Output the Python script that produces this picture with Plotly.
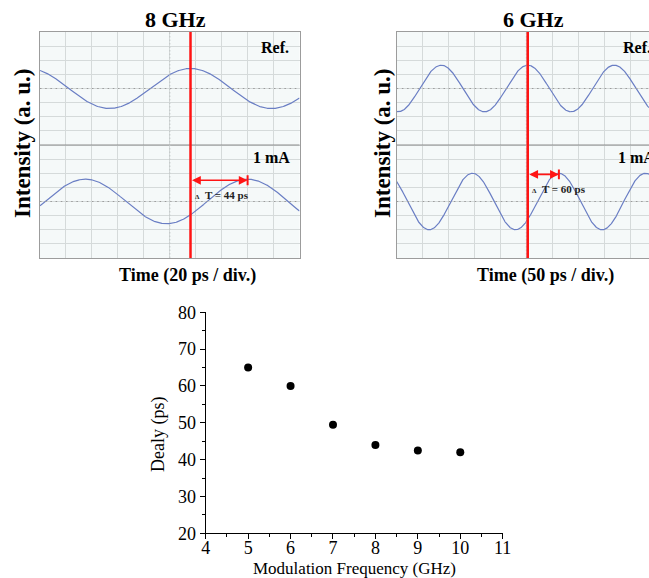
import numpy as np
import plotly.graph_objects as go

# ---- delay versus modulation frequency ----
freq_ghz = [5, 6, 7, 8, 9, 10]
delay_ps = [65, 60, 49.5, 44, 42.5, 42]

# ---- oscilloscope captures (reference and 1 mA signal) ----
scope_titles = ["8 GHz", "6 GHz"]
scope_freq_ghz = [8, 6]
scope_ps_per_div = [20, 50]
scope_ref_peak_ps = [116, 252.5]      # marker line sits on this reference peak
scope_delay_ps = [44, 60]             # peak shift of the 1 mA trace
scope_ref_amp_div = [1.42, 1.65]
scope_sig_amp_div = [1.58, 2.0]
scope_time_labels = ["Time (20 ps / div.)", "Time (50 ps / div.)"]
scope_delay_labels = ["T = 44 ps", "T = 60 ps"]

W, H = 649, 578
SERIF = "Liberation Serif, Times New Roman, serif"


def fx(px):
    return px / W


def fy(py):
    return 1 - py / H


# scope frames in page pixels: left, right, top, bottom
DIV_PX = 25.95
frames = [
    dict(x0=40, x1=299.5, top=32, bottom=258),
    dict(x0=396.7, x1=W, top=32, bottom=258),
]

fig = go.Figure()

wave_color = "#6a7ec4"
grid_color = "#d5dada"
frame_color = "#9c9c9c"
scope_bg = "#f5f9f9"

shapes = []
annotations = []

for i in range(2):
    fr = frames[i]
    xa = "x" if i == 0 else "x2"
    ya = "y" if i == 0 else "y2"
    per_div = scope_ps_per_div[i]
    t_max = (fr["x1"] - fr["x0"]) / DIV_PX * per_div
    t = np.linspace(0, t_max, 900)
    f = scope_freq_ghz[i] / 1000.0  # cycles per ps
    t_ref = scope_ref_peak_ps[i]
    t_sig = t_ref + scope_delay_ps[i]
    ref = 12 + scope_ref_amp_div[i] * np.cos(2 * np.pi * f * (t - t_ref))
    sig = 4 + scope_sig_amp_div[i] * np.cos(2 * np.pi * f * (t - t_sig))
    for yy in (ref, sig):
        fig.add_trace(go.Scatter(x=t, y=yy, mode="lines", xaxis=xa, yaxis=ya,
                                 line=dict(color=wave_color, width=1.2),
                                 hoverinfo="skip", showlegend=False))

    # screen background
    shapes.append(dict(type="rect", xref=xa + " domain", yref=ya + " domain",
                       x0=0, x1=1, y0=0, y1=1, fillcolor=scope_bg,
                       line=dict(width=0), layer="below"))
    # centre lines of each channel and the channel divider
    for yc in (4, 12):
        shapes.append(dict(type="line", xref=xa + " domain", yref=ya,
                           x0=0, x1=1, y0=yc, y1=yc,
                           line=dict(color="#9a9a9a", width=1.2, dash="1.5px,3.7px")))
    shapes.append(dict(type="line", xref=xa + " domain", yref=ya,
                       x0=0, x1=1, y0=8, y1=8,
                       line=dict(color="#8c8c8c", width=1.2)))
    shapes.append(dict(type="line", xref=xa, yref=ya,
                       x0=5 * per_div, x1=5 * per_div, y0=0, y1=16,
                       line=dict(color="#c4c8c8", width=1.2, dash="1.5px,2px")))
    # trigger marker
    shapes.append(dict(type="line", xref=xa, yref=ya,
                       x0=t_ref, x1=t_ref, y0=0, y1=16,
                       line=dict(color="#ff1414", width=2.5)))
    # delay arrow
    y_arrow = 4 + scope_sig_amp_div[i] - 0.08
    annotations.append(dict(x=t_sig, y=y_arrow, ax=t_ref, ay=y_arrow,
                            xref=xa, yref=ya, axref=xa, ayref=ya,
                            text="", showarrow=True, arrowside="end+start",
                            arrowhead=2, arrowsize=1.1, arrowwidth=1.6,
                            arrowcolor="#ff1414"))
    shapes.append(dict(type="line", xref=xa, yref=ya,
                       x0=t_sig, x1=t_sig, y0=y_arrow - 0.35, y1=y_arrow + 0.35,
                       line=dict(color="#ff1414", width=2)))
    annotations.append(dict(x=t_ref + 0.08 * per_div, y=y_arrow - 1.05,
                            xref=xa, yref=ya, xanchor="left", yanchor="middle",
                            showarrow=False,
                            text="<b><span style='font-size:7px'>Δ</span>  " + scope_delay_labels[i] + "</b>",
                            font=dict(family=SERIF, size=11, color="#222222")))

    # titles and labels
    annotations.append(dict(x=fx(175 if i == 0 else 533), y=fy(20), xref="paper", yref="paper",
                            text="<b>" + scope_titles[i] + "</b>", showarrow=False,
                            xanchor="center", yanchor="middle",
                            font=dict(family=SERIF, size=22, color="black")))
    annotations.append(dict(x=fx(187 if i == 0 else 545), y=fy(275), xref="paper", yref="paper",
                            text="<b>" + scope_time_labels[i] + "</b>", showarrow=False,
                            xanchor="center", yanchor="middle",
                            font=dict(family=SERIF, size=18, color="black")))
    annotations.append(dict(x=fx(22 if i == 0 else 382), y=fy(143), xref="paper", yref="paper",
                            text="<b>Intensity (a. u.)</b>", showarrow=False, textangle=-90,
                            xanchor="center", yanchor="middle",
                            font=dict(family=SERIF, size=23, color="black")))
    if i == 0:
        annotations.append(dict(x=fx(291), y=fy(47), xref="paper", yref="paper",
                                text="<b>Ref.</b>", showarrow=False, xanchor="right",
                                yanchor="middle", font=dict(family=SERIF, size=16, color="black")))
        annotations.append(dict(x=fx(292), y=fy(158), xref="paper", yref="paper",
                                text="<b>1 mA</b>", showarrow=False, xanchor="right",
                                yanchor="middle", font=dict(family=SERIF, size=16, color="black")))
    else:
        # right-hand screen runs past the page edge, so its tags are clipped there
        annotations.append(dict(x=fx(621), y=fy(47), xref="paper", yref="paper",
                                text="<b>Ref.</b>", showarrow=False, xanchor="left",
                                yanchor="middle", font=dict(family=SERIF, size=16, color="black")))
        annotations.append(dict(x=fx(616), y=fy(158), xref="paper", yref="paper",
                                text="<b>1 mA</b>", showarrow=False, xanchor="left",
                                yanchor="middle", font=dict(family=SERIF, size=16, color="black")))

# scatter of delay vs frequency
fig.add_trace(go.Scatter(x=freq_ghz, y=delay_ps, mode="markers", xaxis="x3", yaxis="y3",
                         marker=dict(color="black", size=8), showlegend=False,
                         hoverinfo="skip"))

annotations.append(dict(x=fx(354), y=fy(568), xref="paper", yref="paper",
                        text="Modulation Frequency (GHz)", showarrow=False,
                        xanchor="center", yanchor="middle",
                        font=dict(family=SERIF, size=17, color="black")))
annotations.append(dict(x=fx(158), y=fy(435), xref="paper", yref="paper",
                        text="Dealy (ps)", showarrow=False, textangle=-90,
                        xanchor="center", yanchor="middle",
                        font=dict(family=SERIF, size=18, color="black")))


def scope_x(i):
    fr = frames[i]
    t_max = (fr["x1"] - fr["x0"]) / DIV_PX * scope_ps_per_div[i]
    return dict(domain=[fx(fr["x0"]), fx(fr["x1"])], range=[0, t_max],
                showgrid=True, gridcolor=grid_color, gridwidth=1,
                tick0=0, dtick=scope_ps_per_div[i], showticklabels=False,
                ticks="", zeroline=False, showline=True, linecolor=frame_color,
                linewidth=1.2, mirror=True, fixedrange=True, automargin=False)


def scope_y(i, anchor_x):
    fr = frames[i]
    return dict(domain=[fy(fr["bottom"]), fy(fr["top"])], range=[0, 16],
                showgrid=True, gridcolor=grid_color, gridwidth=1,
                tick0=0, dtick=1, showticklabels=False, ticks="",
                zeroline=False, showline=True, linecolor=frame_color,
                linewidth=1.2, mirror=(i == 0), anchor=anchor_x, fixedrange=True,
                automargin=False)


axis_font = dict(family=SERIF, size=18, color="black")

fig.update_layout(
    width=W, height=H, autosize=False,
    margin=dict(l=0, r=0, t=0, b=0, autoexpand=False),
    paper_bgcolor="white", plot_bgcolor="white",
    showlegend=False, hovermode=False,
    xaxis=dict(scope_x(0), anchor="y"),
    yaxis=scope_y(0, "x"),
    xaxis2=dict(scope_x(1), anchor="y2"),
    yaxis2=scope_y(1, "x2"),
    xaxis3=dict(domain=[fx(205.7), fx(502.7)], range=[4, 11], anchor="y3",
                dtick=1, tick0=4, ticks="outside", ticklen=5, tickwidth=1.2,
                tickcolor="black", showline=True, linecolor="black", linewidth=1.2,
                showgrid=False, zeroline=False, tickfont=axis_font, automargin=False,
                ticklabelstandoff=-7,
                minor=dict(dtick=0.5, ticks="outside", ticklen=3, tickcolor="black", tickwidth=1)),
    yaxis3=dict(domain=[fy(533.3), fy(312.3)], range=[20, 80], anchor="x3",
                dtick=10, tick0=20, ticks="outside", ticklen=5, tickwidth=1.2,
                tickcolor="black", showline=True, linecolor="black", linewidth=1.2,
                showgrid=False, zeroline=False, tickfont=axis_font, automargin=False,
                minor=dict(dtick=5, ticks="outside", ticklen=3, tickcolor="black", tickwidth=1)),
    shapes=shapes,
    annotations=annotations,
)

fig.write_html("out.html")
